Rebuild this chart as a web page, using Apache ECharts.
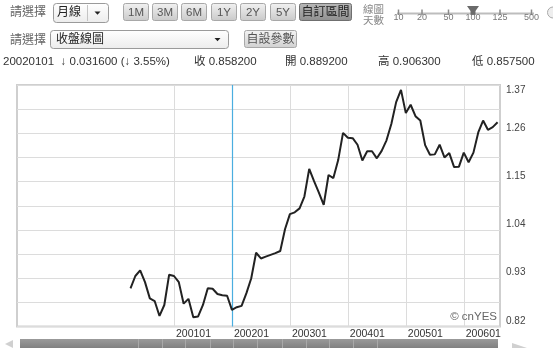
<!DOCTYPE html>
<html><head><meta charset="utf-8">
<script src="https://cdn.jsdelivr.net/npm/echarts@6/dist/echarts.min.js"></script>
<style>html,body{margin:0;padding:0;background:#fff;}#c{width:553px;height:348px;}</style>
</head><body><div id="c"></div>
<script>
// ---- data ----
const firstSlotMonth = '199805';
const slotCount = 100;
const dataStartMonth = '200004';
const closeValues = [
  0.907, 0.935, 0.948, 0.921, 0.884, 0.878, 0.844, 0.869, 0.938,                 // 2000-04..12
  0.935, 0.921, 0.872, 0.883, 0.841, 0.843, 0.869, 0.907, 0.906, 0.894, 0.891, 0.890, // 2001
  0.858, 0.864, 0.867, 0.896, 0.930, 0.988, 0.975, 0.979, 0.983, 0.987, 0.992, 1.042, // 2002
  1.076, 1.080, 1.089, 1.116, 1.179, 1.151, 1.125, 1.097, 1.165, 1.158, 1.199, 1.261, // 2003
  1.250, 1.249, 1.234, 1.198, 1.219, 1.219, 1.203, 1.220, 1.244, 1.281, 1.331, 1.359, // 2004
  1.306, 1.325, 1.299, 1.289, 1.233, 1.211, 1.212, 1.234, 1.205, 1.215, 1.183, 1.184, // 2005
  1.216, 1.194, 1.216, 1.262, 1.289, 1.268, 1.274, 1.285                          // 2006-01..08
];
const yearGridMonths = ['200101', '200201', '200301', '200401', '200501', '200601'];
const selectedMonth = '200201';
const yTickLabels = ['0.82', '0.93', '1.04', '1.15', '1.26', '1.37'];
const rangeButtons = ['1M', '3M', '6M', '1Y', '2Y', '5Y'];
const sliderLabels = ['10', '20', '50', '100', '125', '500'];
const infoLine = { date: '20020101', change: '↓ 0.031600 (↓ 3.55%)', close: '收 0.858200', open: '開 0.889200', high: '高 0.906300', low: '低 0.857500' };

// ---- build ----
function addMonths(ym, n) {
  let y = +ym.slice(0, 4), m = +ym.slice(4) - 1 + n;
  y += Math.floor(m / 12); m = ((m % 12) + 12) % 12;
  return '' + y + String(m + 1).padStart(2, '0');
}
const categories = Array.from({ length: slotCount }, (_, i) => addMonths(firstSlotMonth, i));
const offset = categories.indexOf(dataStartMonth);
const seriesData = categories.map((c, i) => (i >= offset && i - offset < closeValues.length) ? closeValues[i - offset] : null);

const FONT = '"Liberation Sans", Arial, "Noto Sans CJK TC", sans-serif';
function txt(x, y, t, o) {
  o = o || {};
  return { type: 'text', x: x, y: y, silent: true, z: 10,
    style: { text: t, fill: o.fill || '#333', font: (o.weight || 'normal') + ' ' + (o.size || 12) + 'px ' + FONT,
      textAlign: o.align || 'left', align: o.align || 'left', textVerticalAlign: 'middle', verticalAlign: 'middle' } };
}
function rect(x, y, w, h, fill, stroke, r) {
  return { type: 'rect', silent: true, z: 5, shape: { x: x, y: y, width: w, height: h, r: r || 0 },
    style: { fill: fill, stroke: stroke || null, lineWidth: 1 } };
}
function grad(a, b) { return { type: 'linear', x: 0, y: 0, x2: 0, y2: 1, colorStops: [{ offset: 0, color: a }, { offset: 1, color: b }] }; }
function line(x1, y1, x2, y2, c, w) {
  return { type: 'line', silent: true, z: 6, shape: { x1: x1, y1: y1, x2: x2, y2: y2 }, style: { stroke: c, lineWidth: w || 1 } };
}
function poly(pts, fill) { return { type: 'polygon', silent: true, z: 7, shape: { points: pts }, style: { fill: fill } }; }

const g = [];
// row 1
g.push(txt(10, 13, '請選擇', { fill: '#666' }));
g.push(rect(53.5, 3.5, 55, 19, grad('#ffffff', '#ececec'), '#9a9a9a', 3));
g.push(txt(57, 13, '月線', { fill: '#222' }));
g.push(line(87.5, 5, 87.5, 21, '#c4c4c4'));
g.push(poly([[94.5, 11.5], [100.5, 11.5], [97.5, 14.8]], '#222'));
const btnX = [123, 152, 181, 211, 240, 270];
rangeButtons.forEach((b, i) => {
  g.push(rect(btnX[i] + 0.5, 3.5, 25, 17, grad('#f2f2f2', '#c9c9c9'), '#a8a8a8', 2));
  g.push(txt(btnX[i] + 13, 12.5, b, { fill: '#555', size: 11.5, align: 'center' }));
});
g.push(rect(299.5, 3.5, 52, 17, grad('#b8b8b8', '#8f8f8f'), '#6f6f6f', 2));
g.push(txt(325.5, 12.5, '自訂區間', { fill: '#222', size: 12, align: 'center' }));
g.push(txt(363, 10.5, '線圖', { fill: '#888', size: 10.5 }));
g.push(txt(363, 21, '天數', { fill: '#888', size: 10.5 }));
g.push(line(397, 13.5, 534, 13.5, '#bdbdbd', 2));
const tickX = [398.5, 422, 448.5, 473, 500, 531.5];
sliderLabels.forEach((s, i) => {
  g.push(line(tickX[i], 9.5, tickX[i], 15, '#8a8a8a', 1.5));
  g.push(txt(tickX[i], 17.5, s, { fill: '#777', size: 9, align: 'center' }));
});
g.push(poly([[467, 6], [479, 6], [475.5, 11], [475.5, 15], [470.5, 15], [470.5, 11]], '#6a6a6a'));
g.push({ type: 'circle', silent: true, z: 6, shape: { cx: 553, cy: 12.5, r: 5.5 }, style: { fill: '#eee', stroke: '#aaa', lineWidth: 1 } });
// row 2
g.push(txt(10, 41, '請選擇', { fill: '#666' }));
g.push(rect(50.5, 30.5, 178, 18, grad('#ffffff', '#ececec'), '#9a9a9a', 3));
g.push(txt(56, 40, '收盤線圖', { fill: '#222' }));
g.push(poly([[214.5, 38], [220.5, 38], [217.5, 41.3], [217.5, 41.3]], '#222'));
g.push(rect(244.5, 30.5, 52, 17, grad('#f4f4f4', '#d0d0d0'), '#a8a8a8', 2));
g.push(txt(270.5, 39.5, '自設參數', { fill: '#555', size: 12, align: 'center' }));
// row 3
g.push(txt(3, 61.5, infoLine.date + '  ' + infoLine.change, { size: 11.5 }));
g.push(txt(194, 61.5, infoLine.close, { size: 11.5 }));
g.push(txt(285, 61.5, infoLine.open, { size: 11.5 }));
g.push(txt(378, 61.5, infoLine.high, { size: 11.5 }));
g.push(txt(472, 61.5, infoLine.low, { size: 11.5 }));
// watermark
g.push(txt(497, 317, '© cnYES', { fill: '#666', size: 11.5, align: 'right' }));
// bottom scrollbar
g.push(rect(20, 339, 478, 10, grad('#9a9a9a', '#7e7e7e'), null, 0));
[138, 162, 185, 210, 233, 257, 282, 306, 329, 353, 377].forEach(x => g.push(line(x + 0.5, 339, x + 0.5, 348, '#a9a9a9')));
g.push(poly([[5, 344], [13, 340], [13, 348]], '#d0d0d0'));
g.push(poly([[527, 348], [512, 343], [512, 348]], '#d0d0d0'));

const gridMarks = yearGridMonths.filter(m => m !== selectedMonth).map(m => ({ xAxis: m, lineStyle: { color: '#dcdcdc', width: 1, type: 'solid' } }));
gridMarks.push({ xAxis: selectedMonth, lineStyle: { color: '#4aaee0', width: 1.2, type: 'solid' } });

const chart = echarts.init(document.getElementById('c'), null, { renderer: 'canvas' });
chart.setOption({
  animation: false,
  backgroundColor: '#fff',
  textStyle: { fontFamily: FONT },
  grid: { left: 17, right: 53, top: 85, bottom: 21.5, show: true, borderColor: '#cfcfcf', borderWidth: 2, backgroundColor: '#fff' },
  xAxis: {
    type: 'category', data: categories, boundaryGap: true,
    axisLine: { show: false }, axisTick: { show: false }, splitLine: { show: false },
    axisLabel: { interval: (i, v) => yearGridMonths.includes(v), align: 'left', margin: 2, padding: [0, 0, 0, 2],
      color: '#333', fontSize: 10.5, fontFamily: FONT }
  },
  yAxis: {
    type: 'value', position: 'right', min: 0.82, max: 1.37, interval: 0.055,
    axisLine: { show: false }, axisTick: { show: false },
    splitLine: { lineStyle: { color: '#dcdcdc', width: 1 } },
    axisLabel: { margin: 6, color: '#444', fontSize: 10, lineHeight: 11, fontFamily: FONT,
      formatter: v => {
        const s = v.toFixed(2);
        if (!yTickLabels.includes(s)) return '';
        return s === yTickLabels[yTickLabels.length - 1] ? ' \n' + s : s + '\n ';
      } }
  },
  series: [{
    type: 'line', data: seriesData, showSymbol: false, symbol: 'none',
    lineStyle: { color: '#222', width: 2 }, z: 5,
    markLine: { silent: true, symbol: ['none', 'none'], label: { show: false }, z: 2, data: gridMarks }
  }],
  graphic: g
});
</script></body></html>
